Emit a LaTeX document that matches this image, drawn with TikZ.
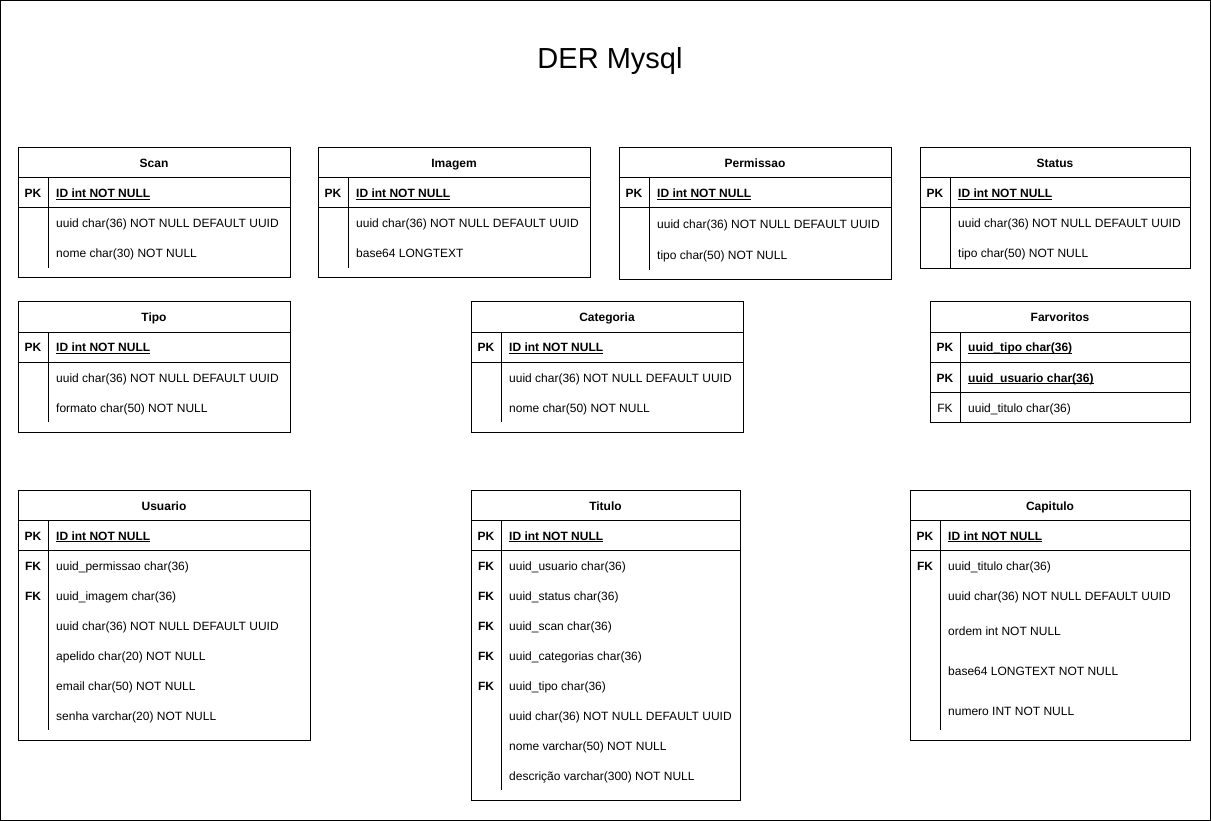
\documentclass[tikz,border=0pt]{standalone}
\usepackage{fontspec}
\setmainfont{Liberation Sans}
\newcommand\myul[1]{\setbox0\hbox{#1}\rlap{\vrule width \wd0 height -1.4pt depth 2.4pt}\box0}
\newcommand\tablebox[7]{% name, x1, y1, x2, y2, title, divider bottom
  \draw[tline] (#2,#3) rectangle (#4,#5);
  \draw[tline] (#2,{#3+30}) -- (#4,{#3+30});
  \draw[tline] (#2,{#3+60}) -- (#4,{#3+60});
  \draw[tline] ({#2+30},{#3+30}) -- ({#2+30},#7);
  \node[hdr] (#1) at ({(#2+#4)/2},{#3+20}) {#6};
}
\newcommand\krow[5]{% name, x1, center y, key, text
  \node[keyt] (#1k) at ({#2+15},{#3+5}) {#4};
  \node[fld] (#1) at ({#2+38},{#3+5}) {#5};
}
\newcommand\frow[4]{% name, x1, center y, text
  \node[fld] (#1) at ({#2+38},{#3+5}) {#4};
}
\tikzset{
  tline/.style={draw=black, line width=1pt},
  hdr/.style={font=\fontsize{12}{14}\selectfont\bfseries, inner sep=0pt, anchor=base},
  keyt/.style={font=\fontsize{12}{14}\selectfont\bfseries, inner sep=0pt, anchor=base},
  fld/.style={font=\fontsize{12}{14}\selectfont, inner sep=0pt, anchor=base west},
}
\begin{document}
\begin{tikzpicture}[x=1pt,y=-1pt]
\useasboundingbox (0,0) rectangle (1211,821);
\draw[tline] (0.5,0.5) rectangle (1210.5,820.5);
\node[font=\fontsize{29}{35}\selectfont, inner sep=0pt, anchor=base] (title) at (610,69) {DER Mysql};

% Scan
\tablebox{scan}{18}{148}{290}{278}{Scan}{268}
\krow{scanpk}{18}{193}{PK}{\bfseries\myul{ID int NOT NULL}}
\frow{scan1}{18}{223}{uuid char(36) NOT NULL DEFAULT UUID}
\frow{scan2}{18}{253}{nome char(30) NOT NULL}

% Imagem
\tablebox{imagem}{318}{148}{590}{278}{Imagem}{268}
\krow{imagempk}{318}{193}{PK}{\bfseries\myul{ID int NOT NULL}}
\frow{imagem1}{318}{223}{uuid char(36) NOT NULL DEFAULT UUID}
\frow{imagem2}{318}{253}{base64 LONGTEXT}

% Permissao
\tablebox{perm}{619}{148}{891}{280}{Permissao}{270}
\krow{permpk}{619}{193}{PK}{\bfseries\myul{ID int NOT NULL}}
\frow{perm1}{619}{224}{uuid char(36) NOT NULL DEFAULT UUID}
\frow{perm2}{619}{255}{tipo char(50) NOT NULL}

% Status
\tablebox{status}{920}{148}{1190}{269}{Status}{268}
\krow{statuspk}{920}{193}{PK}{\bfseries\myul{ID int NOT NULL}}
\frow{status1}{920}{223}{uuid char(36) NOT NULL DEFAULT UUID}
\frow{status2}{920}{253}{tipo char(50) NOT NULL}

% Tipo
\tablebox{tipo}{18}{302}{290}{432}{Tipo}{422}
\krow{tipopk}{18}{347}{PK}{\bfseries\myul{ID int NOT NULL}}
\frow{tipo1}{18}{377}{uuid char(36) NOT NULL DEFAULT UUID}
\frow{tipo2}{18}{407}{formato char(50) NOT NULL}

% Categoria
\tablebox{cat}{471}{302}{743}{432}{Categoria}{422}
\krow{catpk}{471}{347}{PK}{\bfseries\myul{ID int NOT NULL}}
\frow{cat1}{471}{377}{uuid char(36) NOT NULL DEFAULT UUID}
\frow{cat2}{471}{407}{nome char(50) NOT NULL}

% Farvoritos
\tablebox{fav}{930}{302}{1190}{422}{Farvoritos}{422}
\draw[tline] (930,392) -- (1190,392);
\krow{favpk1}{930}{347}{PK}{\bfseries\myul{uuid\_tipo char(36)}}
\krow{favpk2}{930}{377}{PK}{\bfseries\myul{uuid\_usuario char(36)}}
\krow{favfk}{930}{407}{\mdseries FK}{uuid\_titulo char(36)}

% Usuario
\tablebox{usu}{18}{490}{310}{740}{Usuario}{730}
\krow{usupk}{18}{535}{PK}{\bfseries\myul{ID int NOT NULL}}
\krow{usu1}{18}{565}{FK}{uuid\_permissao char(36)}
\krow{usu2}{18}{595}{FK}{uuid\_imagem char(36)}
\frow{usu3}{18}{625}{uuid char(36) NOT NULL DEFAULT UUID}
\frow{usu4}{18}{655}{apelido char(20) NOT NULL}
\frow{usu5}{18}{685}{email char(50) NOT NULL}
\frow{usu6}{18}{715}{senha varchar(20) NOT NULL}

% Titulo
\tablebox{tit}{471}{490}{740}{800}{Titulo}{790}
\krow{titpk}{471}{535}{PK}{\bfseries\myul{ID int NOT NULL}}
\krow{tit1}{471}{565}{FK}{uuid\_usuario char(36)}
\krow{tit2}{471}{595}{FK}{uuid\_status char(36)}
\krow{tit3}{471}{625}{FK}{uuid\_scan char(36)}
\krow{tit4}{471}{655}{FK}{uuid\_categorias char(36)}
\krow{tit5}{471}{685}{FK}{uuid\_tipo char(36)}
\frow{tit6}{471}{715}{uuid char(36) NOT NULL DEFAULT UUID}
\frow{tit7}{471}{745}{nome varchar(50) NOT NULL}
\frow{tit8}{471}{775}{descrição varchar(300) NOT NULL}

% Capitulo
\tablebox{cap}{910}{490}{1190}{740}{Capitulo}{730}
\krow{cappk}{910}{535}{PK}{\bfseries\myul{ID int NOT NULL}}
\krow{cap1}{910}{565}{FK}{uuid\_titulo char(36)}
\frow{cap2}{910}{595}{uuid char(36) NOT NULL DEFAULT UUID}
\frow{cap3}{910}{630}{ordem int NOT NULL}
\frow{cap4}{910}{670}{base64 LONGTEXT NOT NULL}
\frow{cap5}{910}{710}{numero INT NOT NULL}
\end{tikzpicture}
\end{document}
